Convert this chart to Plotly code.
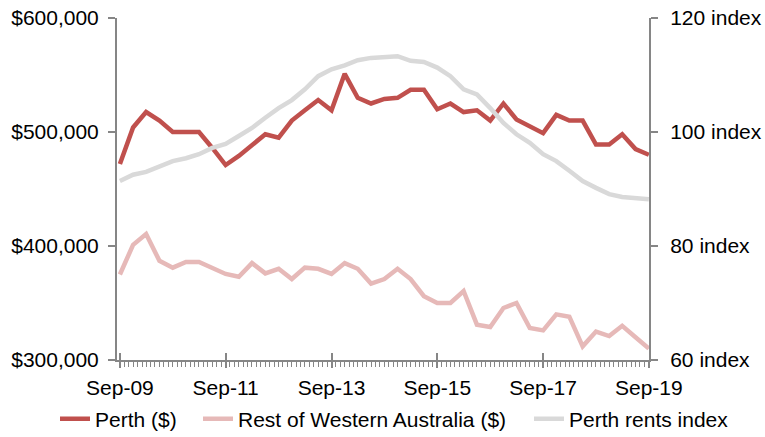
import plotly.graph_objects as go
import pandas as pd

dates = pd.date_range("2009-09-01", periods=41, freq="3MS") + pd.Timedelta(days=14)

perth = [472, 504, 517.5, 510, 500, 500, 500, 486, 471, 479, 489, 498, 495, 510, 519, 528, 519, 551, 530, 525,
         529, 530, 537, 537, 520, 525, 517.5, 519, 510, 525, 511, 505, 499, 515, 510, 510, 489, 489, 498, 485, 480]
rest_wa = [375, 401, 410.5, 387, 381, 386, 386, 381, 375.5, 373, 385, 376, 380, 371, 381, 380, 375.5, 385, 380, 367,
           371, 380, 371, 356, 350, 350, 360.5, 331, 329, 345.6, 350, 328, 326, 340, 338, 312, 325, 321, 330, 320, 310]
rents = [91.4, 92.5, 93, 94, 94.9, 95.4, 96.1, 97.2, 97.9, 99.3, 100.7, 102.5, 104.2, 105.6, 107.5, 109.8, 111, 111.7, 112.6, 113,
         113.2, 113.3, 112.5, 112.3, 111.3, 109.8, 107.5, 106.6, 104.2, 101.6, 99.6, 98.1, 96.1, 94.9, 93.2, 91.4, 90.2, 89.1, 88.6, 88.4, 88.2]

perth_v = [v * 1000 for v in perth]
rest_v = [v * 1000 for v in rest_wa]

left_ticks = [300000, 400000, 500000, 600000]
left_labels = ["$300,000", "$400,000", "$500,000", "$600,000"]
right_ticks = [60, 80, 100, 120]
right_labels = ["60 index", "80 index", "100 index", "120 index"]

x_range = ["2009-08-26", "2019-09-16"]

fig = go.Figure()
fig.add_trace(go.Scatter(x=dates, y=perth_v, name="Perth ($)", mode="lines",
                         line=dict(color="#C0504D", width=4.5), legend="legend"))
fig.add_trace(go.Scatter(x=dates, y=rest_v, name="Rest of Western Australia ($)", mode="lines",
                         line=dict(color="#E6B9B8", width=4.5), legend="legend2"))
fig.add_trace(go.Scatter(x=dates, y=rents, name="Perth rents index", mode="lines",
                         line=dict(color="#D9D9D9", width=4.5), yaxis="y2", legend="legend3"))
# empty helper trace so the inner-tick overlay axis is drawn
fig.add_trace(go.Scatter(x=[], y=[], xaxis="x2", yaxis="y", showlegend=False, hoverinfo="skip"))

axis_col = "#868686"
font = dict(family="Liberation Sans, Arial", size=21, color="#000000")


def leg(x):
    return dict(orientation="h", xref="container", yref="container", x=x, xanchor="left",
                y=1 - 419 / 437, yanchor="middle", font=font, itemwidth=30,
                bgcolor="rgba(0,0,0,0)", borderwidth=0)


fig.update_layout(
    width=765, height=437,
    margin=dict(l=117, r=116, t=18, b=77, autoexpand=False),
    paper_bgcolor="white", plot_bgcolor="white",
    font=font,
    showlegend=True,
    legend=leg(55 / 765),
    legend2=leg(198 / 765),
    legend3=leg(529 / 765),
    xaxis=dict(type="date", range=x_range,
               tickformat="%b-%y", tick0=dates[0], dtick="M24",
               showgrid=False, zeroline=False, automargin=False,
               showline=True, linecolor=axis_col, linewidth=2,
               ticks="outside", ticklen=6, tickcolor=axis_col, tickwidth=1.5,
               minor=dict(dtick="M1", tick0=dates[0], ticks="outside", ticklen=5, tickcolor=axis_col, tickwidth=1, showgrid=False),
               tickfont=font, ticklabelstandoff=2),
    xaxis2=dict(type="date", range=x_range, overlaying="x", anchor="y", side="bottom",
                tick0=dates[0], dtick="M24", showticklabels=False,
                showgrid=False, zeroline=False, automargin=False, showline=False,
                ticks="inside", ticklen=7, tickcolor=axis_col, tickwidth=1.5),
    yaxis=dict(range=[300000, 600000], tickmode="array", tickvals=left_ticks, ticktext=left_labels,
               showgrid=False, zeroline=False, automargin=False,
               showline=True, linecolor=axis_col, linewidth=2,
               ticks="outside", ticklen=7, tickcolor=axis_col, tickwidth=1.5,
               tickfont=font, ticklabelstandoff=5),
    yaxis2=dict(range=[60, 120], tickmode="array", tickvals=right_ticks, ticktext=right_labels,
                overlaying="y", side="right",
                showgrid=False, zeroline=False, automargin=False,
                showline=True, linecolor=axis_col, linewidth=2,
                ticks="outside", ticklen=7, tickcolor=axis_col, tickwidth=1.5,
                tickfont=font, ticklabelstandoff=8),
)

fig.write_html("out.html", config={"displayModeBar": False},
               post_script="document.body.style.margin='0px';")
